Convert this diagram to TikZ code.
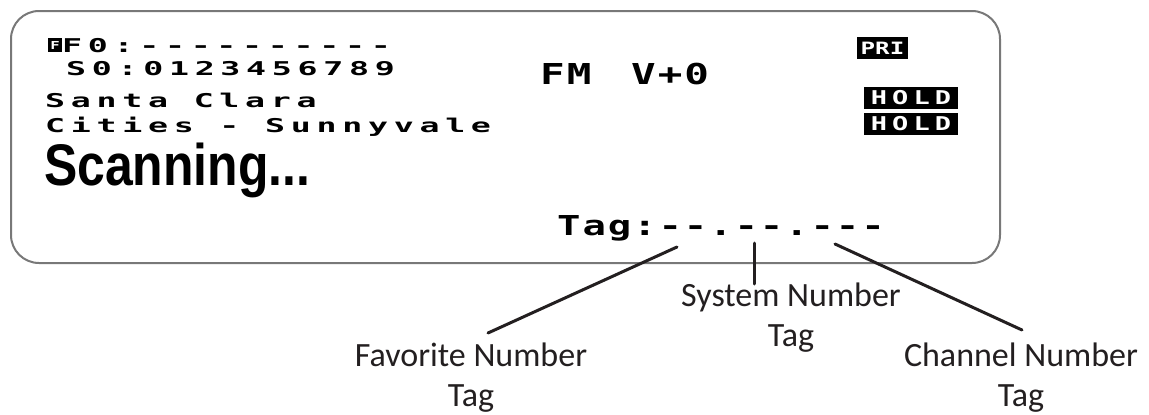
\documentclass[tikz,border=0pt]{standalone}
\usepackage{fontspec}
\usepackage{tikz}
\usetikzlibrary{positioning}
\usetikzlibrary{calc}
\newfontfamily\lcdsmall[FakeStretch=1.75,LetterSpace=30]{DejaVu Sans Mono}
\newfontfamily\lcdbig[FakeStretch=1.42]{DejaVu Sans Mono}
\newfontfamily\lcdscan[FakeStretch=0.85]{Liberation Sans}
\newfontfamily\labelfont{Carlito}
\definecolor{framecolor}{RGB}{120,120,120}
\definecolor{leadcolor}{RGB}{35,31,32}

\begin{document}
\begin{tikzpicture}[
    x=1pt, y=1pt,
    display/.style={draw=framecolor, line width=2pt, rounded corners=28pt, inner sep=0},
    lcdline/.style={anchor=base west, inner sep=0, font=\lcdsmall\bfseries\fontsize{19}{19}\selectfont},
    lcdwide/.style={anchor=base west, inner sep=0, font=\lcdbig\bfseries\fontsize{#1}{#1}\selectfont},
    flag/.style={fill=black, text=white, inner sep=0, minimum height=22},
    leader/.style={draw=leadcolor, line width=3pt, line cap=round},
    taglabel/.style={anchor=north, inner sep=0, align=center, text=leadcolor, font=\labelfont\fontsize{34}{40}\selectfont}
]
\useasboundingbox (0,0) rectangle (1149,-415);

% Display frame
\node[display, minimum width=989, minimum height=252] (lcd) at (505.5,-137) {};

% Left block of text
\node[fill=black, text=white, inner sep=0, minimum size=14, font=\lcdbig\bfseries\fontsize{11}{11}\selectfont] (favicon) at (55,-45) {F};
\node[lcdline] (line1) at (62,-52) {F0:----------};
\node[lcdline] (line2) at (66,-75) {S0:0123456789};
\node[lcdline] (line3) at (45,-107) {Santa Clara};
\node[lcdline] (line4) at (45,-132) {Cities - Sunnyvale};
\node[anchor=base west, inner sep=0, font=\lcdscan\bfseries\fontsize{58.7}{58.7}\selectfont] (scan) at (44,-185) {Scanning...};

% Modulation and volume
\node[lcdwide=28.8] (mod) at (540,-84) {\addfontfeatures{LetterSpace=7}FM};
\node[lcdwide=28.8] (vol) at (631,-84) {\addfontfeatures{LetterSpace=7}V+0};

% Status flags
\node[flag, minimum width=51, font=\lcdbig\bfseries\fontsize{17}{17}\selectfont] (pri) at (882.5,-48) {PRI};
\node[flag, minimum width=94, font=\lcdbig\bfseries\fontsize{19}{19}\selectfont\addfontfeatures{LetterSpace=27}] (hold1) at (911,-98) {HOLD};
\node[flag, minimum width=94, font=\lcdbig\bfseries\fontsize{19}{19}\selectfont\addfontfeatures{LetterSpace=27}] (hold2) at (911,-124) {HOLD};

% Tag readout
\node[lcdwide=27.4] (tag) at (557,-235) {\addfontfeatures{LetterSpace=7}Tag:--.--.---};
\coordinate (favtip) at (677,-247);
\coordinate (systip) at (754,-243);
\coordinate (chantip) at (835,-244);

% Labels
\node[taglabel] (favlbl) at (471,-343) {Favorite Number\\Tag};
\node[taglabel] (syslbl) at (791,-283) {System Number\\Tag};
\node[taglabel] (chanlbl) at (1021,-343) {Channel Number\\Tag};

% Leaders
\draw[leader] (favtip) -- ($(favlbl.north)+(17,10)$);
\draw[leader] (systip) -- ($(syslbl.north)+(-37,-1)$);
\draw[leader] (chantip) -- ($(chanlbl.north)+(1,13)$);

\end{tikzpicture}
\end{document}
